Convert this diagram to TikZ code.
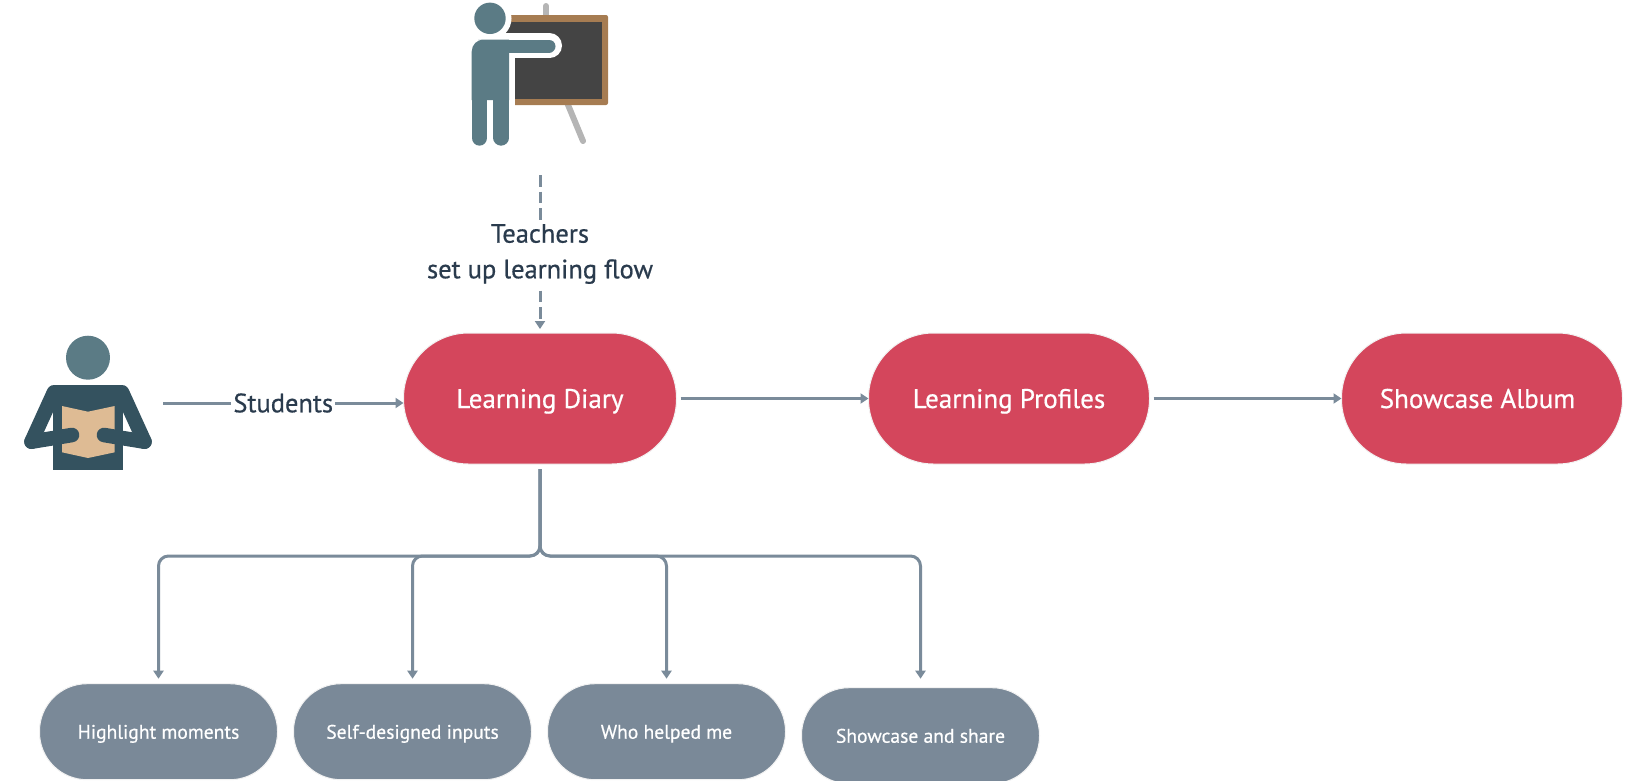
\documentclass[tikz,border=0pt]{standalone}
\usepackage{fontspec}
\setmainfont[FakeBold=0.6]{PT Sans}
\usetikzlibrary{positioning,arrows.meta}
\definecolor{pillred}{HTML}{D4465C}
\definecolor{pillgray}{HTML}{7A8998}
\definecolor{linegray}{HTML}{7A8B9A}
\definecolor{labeltext}{HTML}{2A3B4D}
\definecolor{figteal}{HTML}{5B7B85}
\definecolor{figdark}{HTML}{34525F}
\definecolor{bookskin}{HTML}{DEBB94}
\definecolor{boardwood}{HTML}{A67C52}
\definecolor{boarddark}{HTML}{444444}
\definecolor{standgray}{HTML}{B5B5B5}
\tikzset{
  bigpill/.style={fill=pillred,draw=black!5,line width=1pt,text=white,outer sep=0pt,minimum width=281pt,minimum height=131pt,rounded corners=65pt,text height=19pt,text depth=0pt,font=\fontsize{27}{30}\selectfont},
  smallpill/.style={fill=pillgray,draw=black!5,line width=1pt,text=white,outer sep=0pt,minimum width=238pt,minimum height=96pt,rounded corners=47.5pt,text height=14pt,text depth=0pt,font=\fontsize{19.6}{24}\selectfont},
  flowline/.style={draw=linegray,line width=3pt,-{Triangle[length=8pt,width=10pt]}},
  flowlabel/.style={fill=white,text=labeltext,inner sep=2pt,align=center,font=\fontsize{26.5}{35.6}\selectfont}
}

\begin{document}
\begin{tikzpicture}[x=1pt,y=-1pt]
  \useasboundingbox (0,0) rectangle (1641,780);

  \node [bigpill,minimum width=273pt] (diary) at (540,398.5) {Learning Diary};
  \node [bigpill,right=192pt of diary] (profiles) {Learning Profiles};
  \node [bigpill,right=192pt of profiles] (album) {Showcase Album\hspace*{9pt}};

  \node [smallpill] (moments) at (158.5,731.7) {Highlight moments};
  \node [smallpill,right=16pt of moments] (inputs) {Self-designed inputs};
  \node [smallpill,right=16pt of inputs] (helped) {Who helped me};
  \node [smallpill,right=16pt of helped,yshift=-4pt] (share) {Showcase and share};

  \coordinate (teacher) at (540,175);
  \coordinate (student) at (163,403);
  \coordinate (branch) at (540,556);

  \draw[flowline,dashed,dash pattern=on 11.5pt off 5pt,shorten >=4pt] (teacher) -- node[flowlabel] {Teachers\\set up learning flow} (diary.north);
  \draw[flowline] (student) -- node[flowlabel] {Students} (student -| diary.west);
  \draw[flowline,shorten <=4pt] (diary.east) -- (profiles.west);
  \draw[flowline,shorten <=4pt] (profiles.east) -- (album.west);
  \draw[flowline,rounded corners=10pt,shorten <=5pt,shorten >=5pt] (diary.south) -- (branch) -| (moments.north);
  \draw[flowline,rounded corners=10pt,shorten <=5pt,shorten >=5pt] (diary.south) -- (branch) -| (inputs.north);
  \draw[flowline,rounded corners=10pt,shorten <=5pt,shorten >=5pt] (diary.south) -- (branch) -| (helped.north);
  \draw[flowline,rounded corners=10pt,shorten <=5pt,shorten >=9pt] (diary.south) -- (branch) -| (share.north);

  \draw[standgray,line width=6pt,line cap=round] (546,6) -- (546,20);
  \draw[standgray,line width=6pt,line cap=round] (566,100) -- (583,141);
  \fill[boardwood,rounded corners=2pt] (500,15) rectangle (608,105);
  \fill[boarddark] (500,21.7) rectangle (602,99.3);
  \fill[white] (465,46) rectangle (515,150);
  \fill[white] (490,18.3) circle (21.5pt);
  \draw[white,line width=25pt,line cap=round] (490,45.8) -- (549.5,45.8);
  \fill[figteal] (490,18.3) circle (15.7pt);
  \fill[figteal,rounded corners=12pt] (471.7,100) -- (471.7,39.5) -- (490,39.5) [sharp corners] -- (509,39.5) -- (509,100) -- cycle;
  \draw[figteal,line width=13pt,line cap=round] (495,46) -- (549,46);
  \draw[figteal,line width=15.7pt,line cap=round] (479.5,90) -- (479.5,137.8);
  \draw[figteal,line width=15.7pt,line cap=round] (501.2,90) -- (501.2,137.8);

  \fill[figteal] (88,357.7) circle (22pt);
  \fill[figdark] (53,392) rectangle (123.3,470);
  \fill[figdark] (55,385) rectangle (121,395);
  \draw[figdark,line width=14.6pt,line cap=round,line join=round] (54,392.3) -- (31.5,441.7);
  \draw[figdark,line width=14.6pt,line cap=round,line join=round] (122,392.3) -- (144.5,441.7);
  \fill[bookskin] (62,406) -- (88,411.7) -- (114.7,406) -- (114.7,452.3) -- (88,458) -- (62,452.3) -- cycle;
  \draw[figdark,line width=14.6pt,line cap=round,line join=round] (31.5,441.7) -- (72,435);
  \draw[figdark,line width=14.6pt,line cap=round,line join=round] (144.5,441.7) -- (104,435);
\end{tikzpicture}
\end{document}
